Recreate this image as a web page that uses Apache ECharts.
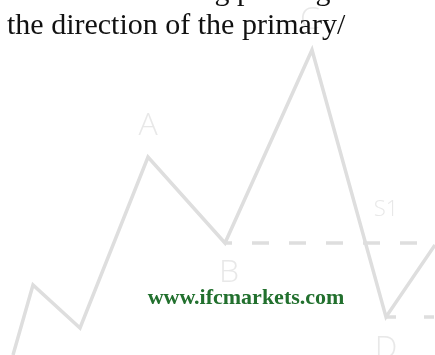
<!DOCTYPE html>
<html lang="en">
<head>
<meta charset="UTF-8">
<title>Wave chart</title>
<style>
  html, body { margin: 0; padding: 0; background: #fff; }
  #chart { width: 435px; height: 355px; }
</style>
</head>
<body>
<div id="chart"></div>
<script src="https://cdn.jsdelivr.net/npm/echarts@6.0.0/dist/echarts.min.js"></script>
<script>
// wave path (x, height from the bottom)
const waveX = [13, 33, 80, 148, 225, 312, 386, 435];
const waveY = [0, 70, 27, 198, 112, 305, 38, 110];

// dashed levels from B and D
const levelB = [[225, 112], [435, 112]];
const levelD = [[386, 38], [435, 38]];

// point names
const pointNames = ['A', 'B', 'C', 'D'];
const pointX = [148, 229, 310, 386];
const pointY = [229, 82, 335, 6];
const s1Label = ['S1', 386, 145];

const textLines = ['which is a wave moving pausing', 'the direction of the primary/'];
const siteText = 'www.ifcmarkets.com';

const chart = echarts.init(document.getElementById('chart'));

const grey = '#dedede';

const option = {
  animation: false,
  grid: { left: 0, right: 0, top: 0, bottom: 0 },
  xAxis: { type: 'value', min: 0, max: 435, show: false },
  yAxis: { type: 'value', min: 0, max: 355, show: false },
  graphic: [
    {
      type: 'text', x: 7, y: 26, z: 10,
      style: { text: textLines[1], font: '30px "Liberation Serif"', fill: '#111', verticalAlign: 'middle' }
    },
    {
      type: 'text', x: -62, y: -8, z: 10,
      style: { text: textLines[0], font: '30px "Liberation Serif"', fill: '#111', verticalAlign: 'middle' }
    },
    {
      type: 'text', x: 246, y: 298, z: 10,
      style: { text: siteText, font: 'bold 22px "Liberation Serif"', fill: '#22702e', align: 'center', verticalAlign: 'middle' }
    }
  ],
  series: [
    {
      type: 'line',
      data: waveX.map((x, i) => [x, waveY[i]]),
      symbol: 'none',
      lineStyle: { color: grey, width: 3.5, join: 'miter' },
      z: 2
    },
    {
      type: 'line',
      data: levelB,
      symbol: 'none',
      lineStyle: { color: grey, width: 3.5, type: [17, 20], dashOffset: 10 },
      z: 2
    },
    {
      type: 'line',
      data: levelD,
      symbol: 'none',
      lineStyle: { color: grey, width: 3.5, type: [10, 28] },
      z: 2
    },
    {
      type: 'scatter',
      symbolSize: 0,
      data: pointNames.map((n, i) => ({ name: n, value: [pointX[i], pointY[i]] }))
        .concat([{ name: s1Label[0], value: [s1Label[1], s1Label[2]], label: { fontSize: 22 } }]),
      label: {
        show: true,
        position: 'inside',
        formatter: p => p.name,
        color: '#e2e2e2',
        fontFamily: 'Open Sans',
        fontWeight: 300,
        fontSize: 32
      },
      z: 1
    }
  ]
};

chart.setOption(option);
</script>
</body>
</html>
